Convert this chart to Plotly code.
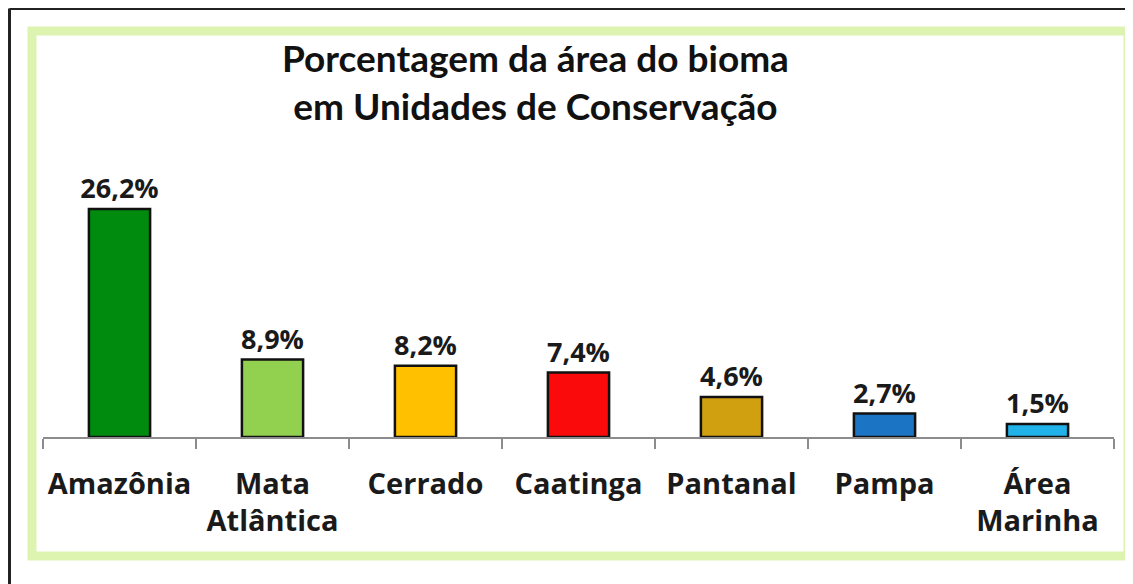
import plotly.graph_objects as go

categories = ["Amazônia", "Mata<br>Atlântica", "Cerrado", "Caatinga", "Pantanal", "Pampa", "Área<br>Marinha"]
values = [26.2, 8.9, 8.2, 7.4, 4.6, 2.7, 1.5]
colors = ["#008a0e", "#92d050", "#ffc000", "#fa0a0a", "#d0a010", "#1b74c4", "#22b2ea"]
title_text = "Porcentagem da área do bioma<br>em Unidades de Conservação"

# the page body adds an 8px offset; figure pixel coords below are page coords - 8
W, H = 1125, 576
L, R, T, B = 35, 19, 168, 147
PW, PH = W - L - R, H - T - B
ax_y = T + PH  # figure pixel y of the axis


def px(x):
    return (x - L) / PW


def py(y):
    return (ax_y - y) / PH


fig = go.Figure(go.Bar(
    x=categories, y=values,
    marker=dict(color=colors, line=dict(color="#111111", width=2.5)),
    width=0.4,
    texttemplate="%{y:.1f}%", textposition="outside", cliponaxis=False,
    constraintext="none",
    textfont=dict(family="Open Sans", size=27, color="#1a1a1a", weight="bold"),
    hoverinfo="skip",
))

fig.update_layout(
    width=W, height=H,
    margin=dict(l=L, r=R, t=T, b=B, pad=0, autoexpand=False),
    paper_bgcolor="white", plot_bgcolor="white",
    separators=",.",
    showlegend=False,
    xaxis=dict(
        showline=True, linecolor="#8c8c8c", linewidth=1.5,
        ticks="outside", tickson="boundaries", ticklen=10, tickcolor="#8c8c8c", tickwidth=1.5,
        ticklabelstandoff=20, tickangle=0, automargin=False,
        tickfont=dict(family="Open Sans", size=29, color="#1a1a1a", weight="bold"),
        showgrid=False, zeroline=False,
    ),
    yaxis=dict(range=[0, 30], visible=False, showgrid=False, zeroline=False, automargin=False),
    shapes=[
        dict(type="rect", xref="paper", yref="paper",
             x0=px(24), x1=px(1120), y0=py(548), y1=py(23),
             line=dict(color="#dcf4b0", width=9), fillcolor="rgba(0,0,0,0)", layer="below"),
        dict(type="line", xref="paper", yref="paper",
             x0=px(1.5), x1=px(W + 5), y0=py(0.5), y1=py(0.5),
             line=dict(color="#222222", width=3)),
        dict(type="line", xref="paper", yref="paper",
             x0=px(1.5), x1=px(1.5), y0=py(0.5), y1=py(H + 5),
             line=dict(color="#222222", width=3)),
    ],
    annotations=[
        dict(text=title_text, xref="paper", yref="paper", x=px(527), y=py(25),
             xanchor="center", yanchor="top", showarrow=False,
             font=dict(family="Lato", size=37, color="#111111", weight="bold")),
    ],
)

fig.write_html("out.html")
